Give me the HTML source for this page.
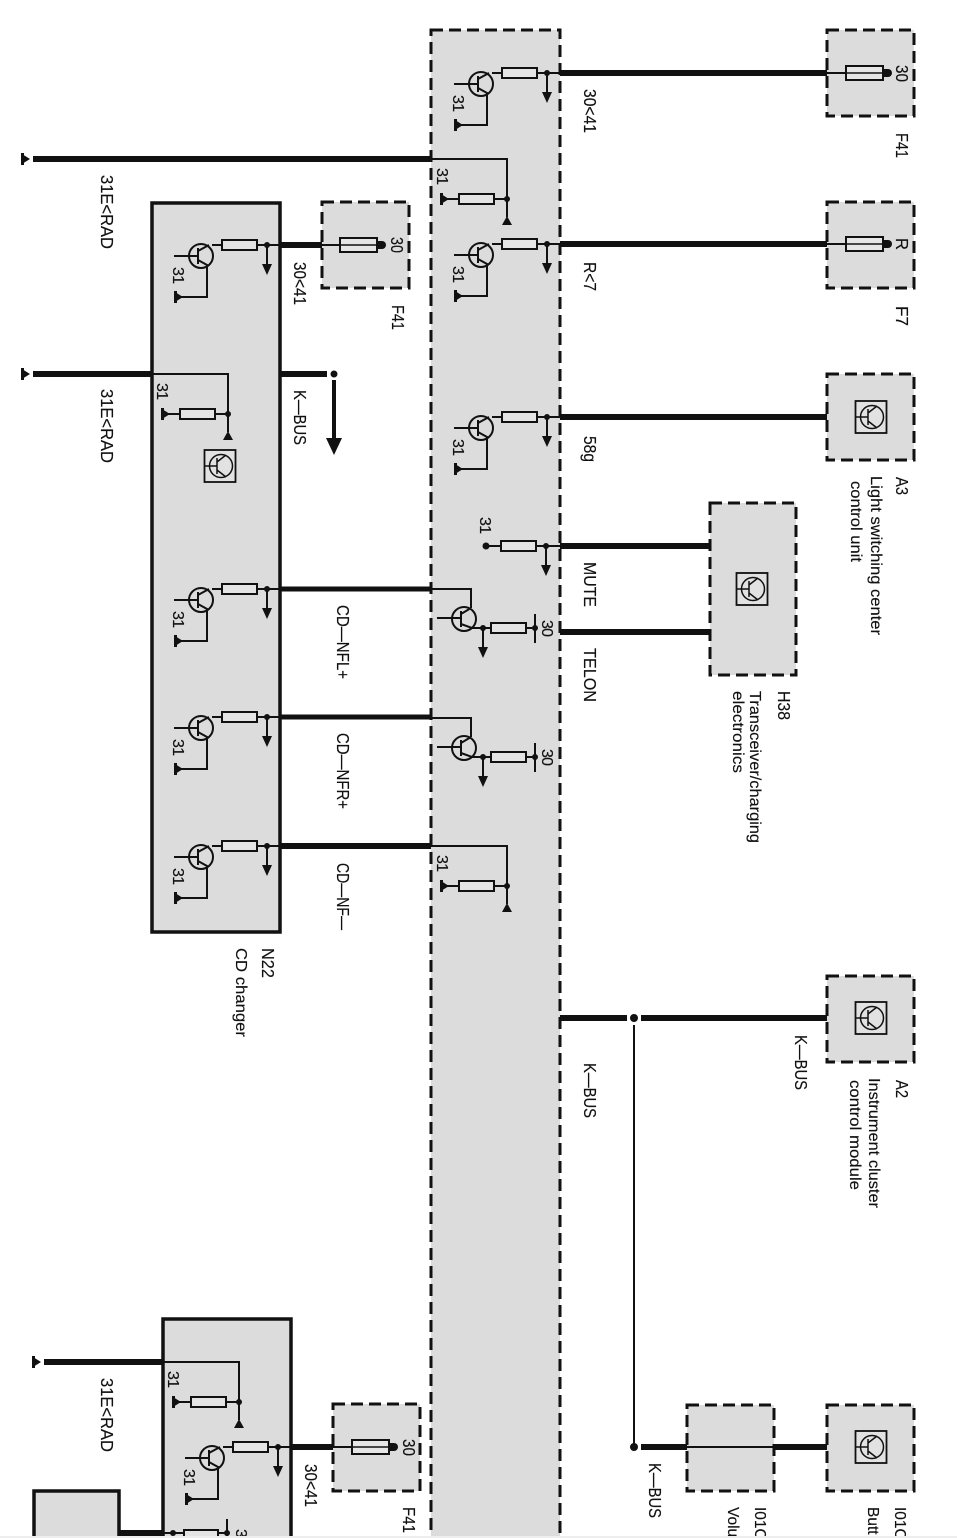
<!DOCTYPE html>
<html><head><meta charset="utf-8"><style>
html,body{margin:0;padding:0;background:#fff}
svg{display:block;filter:blur(.35px)}
text{font-family:"Liberation Sans",sans-serif;font-size:17.5px;fill:#111;stroke:#111;stroke-width:.15}
.s{font-size:16px}
.d{font-size:15.5px}
.b{fill:#dcdcdc;stroke:#111;stroke-width:3;stroke-dasharray:12 6}
.n{fill:#dcdcdc;stroke:#111;stroke-width:3.5}
.w{stroke:#111;stroke-width:6;fill:none}
.m{stroke:#111;stroke-width:2;fill:none}
</style></head><body>
<svg width="957" height="1538" viewBox="0 0 957 1538" xmlns="http://www.w3.org/2000/svg">
<defs>
<g id="gnd"><rect x="-1" y="-6" width="3" height="12" fill="#111"/><polygon points="0,-5 8,0 0,5" fill="#111"/></g>
<g id="arr"><path class="m" d="M0 0V20"/><polygon points="-5,19 5,19 0,30" fill="#111"/></g>
<g id="res"><rect x="0" y="-5" width="35" height="10" fill="#e4e4e4" stroke="#111" stroke-width="2"/></g>
<g id="t">
 <path class="m" d="M-55 0H13"/>
 <use href="#res" x="-45"/>
 <circle r="3" fill="#111"/>
 <use href="#arr"/>
 <circle class="m" cx="-66" cy="11" r="12"/>
 <path class="m" d="M-93 11H-69M-69 3V19M-69 6L-58 0M-69 15L-60 20V52H-88"/>
 <use href="#gnd" x="-92" y="52"/>
</g>
<g id="g">
 <path class="m" d="M0 0H76V58"/>
 <polygon points="71,66 81,66 76,57" fill="#111"/>
 <circle cx="76" cy="40" r="3" fill="#111"/>
 <path class="m" d="M14 40H76"/>
 <use href="#res" x="28" y="40"/>
 <use href="#gnd" x="10" y="40"/>
</g>
<g id="fuse">
 <path class="m" d="M-20 0H0"/>
 <rect x="0" y="-7" width="37" height="14" fill="#e6e6e6" stroke="#111" stroke-width="2"/>
 <path d="M0 0H37" stroke="#111" stroke-width="1.5"/>
 <polygon points="37,-4 42,-4 42,4 37,4" fill="#111"/>
 <circle cx="42" r="4" fill="#111"/>
</g>
<g id="ic">
 <rect x="-15.5" y="-16" width="31" height="32" fill="#e2e2e2" stroke="#111" stroke-width="1.8"/>
 <circle cx="1" cy="0" r="11.5" fill="none" stroke="#111" stroke-width="1.5"/>
 <path d="M-15 0H-3M-3 -8V8M-3 -4L6 -11M-3 4L6 11" fill="none" stroke="#111" stroke-width="1.5"/>
</g>
<g id="t2">
 <path class="m" d="M0 0H40V19"/>
 <circle class="m" cx="33" cy="30" r="12"/>
 <path class="m" d="M6 29H30M30 22V38M30 25L40 19M30 35L41 39H104"/>
 <circle cx="52" cy="39" r="3" fill="#111"/>
 <use href="#arr" x="52" y="39"/>
 <rect x="60" y="34" width="35" height="10" fill="#e4e4e4" stroke="#111" stroke-width="2"/>
 <path class="m" d="M104 25V54"/>
 <circle cx="104" cy="39" r="3" fill="#111"/>
</g>
</defs>

<!-- boxes -->
<rect class="b" x="431" y="30" width="129" height="1530"/>
<rect class="n" x="152" y="203" width="128" height="729"/>
<rect class="n" x="163" y="1319" width="128" height="240"/>
<rect class="n" x="34" y="1491" width="85" height="70"/>
<rect class="b" x="827" y="30" width="87" height="86"/>
<rect class="b" x="827" y="202" width="87" height="86"/>
<rect class="b" x="827" y="374" width="87" height="86"/>
<rect class="b" x="710" y="503" width="86" height="172"/>
<rect class="b" x="827" y="976" width="87" height="86"/>
<rect class="b" x="687" y="1405" width="87" height="86"/>
<rect class="b" x="827" y="1405" width="87" height="86"/>
<rect class="b" x="322" y="202" width="87" height="86"/>
<rect class="b" x="333" y="1404" width="87" height="87"/>

<!-- thick wires -->
<path class="w" d="M560 73H827M560 244H827M560 417H827M560 546H710M560 632H710M560 1018H627M641 1018H827"/>
<path class="w" d="M33 159H431M33 374H152M44 1362H163"/>
<path class="w" d="M280 245H322M280 374H327M280 846H431M291 1447H333M119 1533H163"/>
<path class="w" style="stroke-width:5" d="M280 589H431M280 717H431"/>
<path class="w" d="M641 1447H687M774 1447H827"/>
<path class="m" d="M687 1447H774"/>
<path stroke="#111" stroke-width="2" d="M634 1025V1447"/>
<circle cx="634" cy="1018" r="4" fill="#111"/>
<circle cx="634" cy="1447" r="4" fill="#111"/>
<circle cx="334" cy="374" r="3.5" fill="#111"/>
<path stroke="#111" stroke-width="4" d="M334 380V440"/>
<polygon points="326,438 342,438 334,455" fill="#111"/>

<!-- left ground -->
<use href="#gnd" x="22" y="159"/>
<use href="#gnd" x="22" y="374"/>
<use href="#gnd" x="33" y="1362"/>

<!-- transistor units -->
<use href="#t" x="547" y="73"/>
<use href="#t" x="547" y="244"/>
<use href="#t" x="547" y="417"/>
<use href="#t" x="267" y="245"/>
<use href="#t" x="267" y="589"/>
<use href="#t" x="267" y="717"/>
<use href="#t" x="267" y="846"/>
<use href="#t" x="278" y="1447"/>

<!-- ground-resistor units -->
<use href="#g" x="431" y="159"/>
<use href="#g" x="152" y="374"/>
<use href="#g" x="431" y="846"/>
<use href="#g" x="163" y="1362"/>

<!-- MUTE unit -->
<path class="m" d="M487 546H560"/>
<use href="#res" x="501" y="546"/>
<circle cx="486" cy="546" r="3.5" fill="#111"/>
<circle cx="546" cy="546" r="3" fill="#111"/>
<use href="#arr" x="546" y="546"/>

<use href="#t2" x="431" y="589"/>
<use href="#t2" x="431" y="718"/>

<!-- fuses -->
<use href="#fuse" x="846" y="73"/>
<use href="#fuse" x="846" y="244"/>
<use href="#fuse" x="340" y="245"/>
<use href="#fuse" x="352" y="1447"/>

<!-- icons -->
<use href="#ic" x="871" y="417"/>
<use href="#ic" x="752" y="589"/>
<use href="#ic" x="871" y="1018"/>
<use href="#ic" x="871" y="1447"/>
<use href="#ic" x="220" y="466"/>

<!-- partial unit at bottom -->
<path class="m" d="M163 1533H227M227 1519V1538"/>
<rect x="184" y="1530" width="34" height="10" fill="#e4e4e4" stroke="#111" stroke-width="2"/>
<circle cx="173" cy="1533" r="3" fill="#111"/>
<circle cx="227" cy="1533" r="3" fill="#111"/>
<text class="s" transform="translate(236,1529) rotate(90)">3</text>

<!-- labels -->
<g>
<text transform="translate(101,175) rotate(90)" textLength="74" lengthAdjust="spacingAndGlyphs">31E&lt;RAD</text>
<text transform="translate(101,389) rotate(90)" textLength="74" lengthAdjust="spacingAndGlyphs">31E&lt;RAD</text>
<text transform="translate(101,1378) rotate(90)" textLength="74" lengthAdjust="spacingAndGlyphs">31E&lt;RAD</text>
<text transform="translate(584,89) rotate(90)" textLength="44" lengthAdjust="spacingAndGlyphs">30&lt;41</text>
<text transform="translate(584,262) rotate(90)" textLength="29" lengthAdjust="spacingAndGlyphs">R&lt;7</text>
<text transform="translate(584,436) rotate(90)" textLength="26" lengthAdjust="spacingAndGlyphs">58g</text>
<text transform="translate(584,562) rotate(90)" textLength="45" lengthAdjust="spacingAndGlyphs">MUTE</text>
<text transform="translate(584,648) rotate(90)" textLength="54" lengthAdjust="spacingAndGlyphs">TELON</text>
<text transform="translate(584,1063) rotate(90)" textLength="55" lengthAdjust="spacingAndGlyphs">K—BUS</text>
<text transform="translate(795,1035) rotate(90)" textLength="55" lengthAdjust="spacingAndGlyphs">K—BUS</text>
<text transform="translate(294,262) rotate(90)" textLength="43" lengthAdjust="spacingAndGlyphs">30&lt;41</text>
<text transform="translate(294,390) rotate(90)" textLength="55" lengthAdjust="spacingAndGlyphs">K—BUS</text>
<text transform="translate(337,605) rotate(90)" textLength="74" lengthAdjust="spacingAndGlyphs">CD—NFL+</text>
<text transform="translate(337,733) rotate(90)" textLength="76" lengthAdjust="spacingAndGlyphs">CD—NFR+</text>
<text transform="translate(337,863) rotate(90)" textLength="67" lengthAdjust="spacingAndGlyphs">CD—NF—</text>
<text transform="translate(262,948) rotate(90)" textLength="30" lengthAdjust="spacingAndGlyphs">N22</text>
<text class="d" transform="translate(236,948) rotate(90)" textLength="89" lengthAdjust="spacingAndGlyphs">CD changer</text>
<text transform="translate(896,133) rotate(90)" textLength="25" lengthAdjust="spacingAndGlyphs">F41</text>
<text transform="translate(896,65) rotate(90)" textLength="17" lengthAdjust="spacingAndGlyphs">30</text>
<text transform="translate(896,238) rotate(90)" textLength="12" lengthAdjust="spacingAndGlyphs">R</text>
<text transform="translate(896,306) rotate(90)" textLength="20" lengthAdjust="spacingAndGlyphs">F7</text>
<text transform="translate(392,305) rotate(90)" textLength="25" lengthAdjust="spacingAndGlyphs">F41</text>
<text transform="translate(391,237) rotate(90)" textLength="16" lengthAdjust="spacingAndGlyphs">30</text>
<text transform="translate(403,1507) rotate(90)" textLength="26" lengthAdjust="spacingAndGlyphs">F41</text>
<text transform="translate(403,1439) rotate(90)" textLength="17" lengthAdjust="spacingAndGlyphs">30</text>
<text transform="translate(305,1464) rotate(90)" textLength="43" lengthAdjust="spacingAndGlyphs">30&lt;41</text>
<text transform="translate(649,1463) rotate(90)" textLength="55" lengthAdjust="spacingAndGlyphs">K—BUS</text>
<text transform="translate(896,477) rotate(90)" textLength="18" lengthAdjust="spacingAndGlyphs">A3</text>
<text class="d" transform="translate(871,476) rotate(90)" textLength="159" lengthAdjust="spacingAndGlyphs">Light switching center</text>
<text class="d" transform="translate(851,481) rotate(90)" textLength="81" lengthAdjust="spacingAndGlyphs">control unit</text>
<text transform="translate(778,691) rotate(90)" textLength="29" lengthAdjust="spacingAndGlyphs">H38</text>
<text class="d" transform="translate(750,691) rotate(90)" textLength="152" lengthAdjust="spacingAndGlyphs">Transceiver/charging</text>
<text class="d" transform="translate(733,691) rotate(90)" textLength="82" lengthAdjust="spacingAndGlyphs">electronics</text>
<text transform="translate(896,1080) rotate(90)" textLength="18" lengthAdjust="spacingAndGlyphs">A2</text>
<text class="d" transform="translate(869,1078) rotate(90)" textLength="130" lengthAdjust="spacingAndGlyphs">Instrument cluster</text>
<text class="d" transform="translate(850,1080) rotate(90)" textLength="110" lengthAdjust="spacingAndGlyphs">control module</text>
<text class="d" transform="translate(755,1507) rotate(90)">I01C</text>
<text class="d" transform="translate(728,1507) rotate(90)">Volu</text>
<text class="d" transform="translate(895,1507) rotate(90)">I01C</text>
<text class="d" transform="translate(868,1507) rotate(90)">Butt</text>

<text class="s" transform="translate(453,95) rotate(90)" textLength="17">31</text>
<text class="s" transform="translate(453,266) rotate(90)" textLength="17">31</text>
<text class="s" transform="translate(453,439) rotate(90)" textLength="17">31</text>
<text class="s" transform="translate(173,267) rotate(90)" textLength="17">31</text>
<text class="s" transform="translate(173,611) rotate(90)" textLength="17">31</text>
<text class="s" transform="translate(173,739) rotate(90)" textLength="17">31</text>
<text class="s" transform="translate(173,868) rotate(90)" textLength="17">31</text>
<text class="s" transform="translate(184,1469) rotate(90)" textLength="17">31</text>
<text class="s" transform="translate(437,168) rotate(90)" textLength="17">31</text>
<text class="s" transform="translate(157,383) rotate(90)" textLength="17">31</text>
<text class="s" transform="translate(437,855) rotate(90)" textLength="17">31</text>
<text class="s" transform="translate(168,1371) rotate(90)" textLength="17">31</text>
<text class="s" transform="translate(480,517) rotate(90)" textLength="17">31</text>
<text class="s" transform="translate(542,620) rotate(90)" textLength="17">30</text>
<text class="s" transform="translate(542,749) rotate(90)" textLength="17">30</text>
</g>
<rect x="0" y="1536" width="957" height="2" fill="#eee"/>
</svg>
</body></html>
